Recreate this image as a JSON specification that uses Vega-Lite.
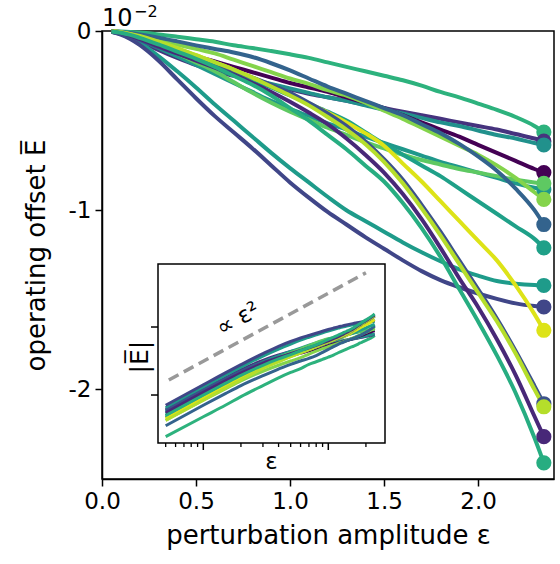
{
"$schema": "https://vega.github.io/schema/vega-lite/v6.json",
"width": 452, "height": 448,
"autosize": {"type": "none"},
"padding": {"left": 102, "top": 31, "right": 6, "bottom": 85},
"config": {"view": {"stroke": "black", "strokeWidth": 1.5}, "font": "DejaVu Sans",
  "axis": {"grid": false, "domainColor": "black", "domainWidth": 1.5, "tickColor": "black", "tickWidth": 1.5, "labelColor": "black", "titleColor": "black", "titleFontWeight": "normal", "labelFont": "DejaVu Sans", "titleFont": "DejaVu Sans", "labelFlush": false}},
"datasets": {
"guide": [{"x": 0.053, "E": -0.0276}, {"x": 2.0, "E": -39.3}],
"notes": [{"x": 0.19, "E": -1.7, "label": "∝ ε²"}],
"xminor": [{"x":0.05},{"x":0.06},{"x":0.07},{"x":0.08},{"x":0.09},{"x":0.2},{"x":0.3},{"x":0.4},{"x":0.5},{"x":0.6},{"x":0.7},{"x":0.8},{"x":0.9},{"x":2}],
"xmajor": [{"x":0.1},{"x":1}],
"ymajor": [{"E":-0.01},{"E":-1}],
"curves": [
{"c":"a","x":0.05,"E":-0.0006},{"c":"a","x":0.1,"E":-0.0023},{"c":"a","x":0.15,"E":-0.005},{"c":"a","x":0.2,"E":-0.009},{"c":"a","x":0.3,"E":-0.019},{"c":"a","x":0.4,"E":-0.032},{"c":"a","x":0.5,"E":-0.046},{"c":"a","x":0.6,"E":-0.06},{"c":"a","x":0.7,"E":-0.08},{"c":"a","x":0.8,"E":-0.095},{"c":"a","x":0.9,"E":-0.112},{"c":"a","x":1,"E":-0.13},{"c":"a","x":1.1,"E":-0.15},{"c":"a","x":1.2,"E":-0.175},{"c":"a","x":1.3,"E":-0.2},{"c":"a","x":1.4,"E":-0.225},{"c":"a","x":1.5,"E":-0.25},{"c":"a","x":1.6,"E":-0.275},{"c":"a","x":1.7,"E":-0.305},{"c":"a","x":1.8,"E":-0.34},{"c":"a","x":1.9,"E":-0.37},{"c":"a","x":2,"E":-0.405},{"c":"a","x":2.1,"E":-0.44},{"c":"a","x":2.2,"E":-0.48},{"c":"a","x":2.3,"E":-0.53},{"c":"a","x":2.35,"E":-0.564},
{"c":"p","x":0.05,"E":-0.0038},{"c":"p","x":0.1,"E":-0.015},{"c":"p","x":0.15,"E":-0.032},{"c":"p","x":0.2,"E":-0.055},{"c":"p","x":0.3,"E":-0.105},{"c":"p","x":0.4,"E":-0.15},{"c":"p","x":0.5,"E":-0.19},{"c":"p","x":0.6,"E":-0.22},{"c":"p","x":0.7,"E":-0.25},{"c":"p","x":0.8,"E":-0.275},{"c":"p","x":0.9,"E":-0.3},{"c":"p","x":1,"E":-0.325},{"c":"p","x":1.1,"E":-0.35},{"c":"p","x":1.2,"E":-0.37},{"c":"p","x":1.3,"E":-0.39},{"c":"p","x":1.4,"E":-0.41},{"c":"p","x":1.5,"E":-0.43},{"c":"p","x":1.6,"E":-0.45},{"c":"p","x":1.7,"E":-0.47},{"c":"p","x":1.8,"E":-0.49},{"c":"p","x":1.9,"E":-0.51},{"c":"p","x":2,"E":-0.53},{"c":"p","x":2.1,"E":-0.55},{"c":"p","x":2.2,"E":-0.575},{"c":"p","x":2.3,"E":-0.6},{"c":"p","x":2.35,"E":-0.615},
{"c":"b","x":0.05,"E":-0.0033},{"c":"b","x":0.1,"E":-0.013},{"c":"b","x":0.15,"E":-0.028},{"c":"b","x":0.2,"E":-0.048},{"c":"b","x":0.3,"E":-0.095},{"c":"b","x":0.4,"E":-0.14},{"c":"b","x":0.5,"E":-0.18},{"c":"b","x":0.6,"E":-0.215},{"c":"b","x":0.7,"E":-0.245},{"c":"b","x":0.8,"E":-0.27},{"c":"b","x":0.9,"E":-0.295},{"c":"b","x":1,"E":-0.32},{"c":"b","x":1.1,"E":-0.345},{"c":"b","x":1.2,"E":-0.37},{"c":"b","x":1.3,"E":-0.39},{"c":"b","x":1.4,"E":-0.415},{"c":"b","x":1.5,"E":-0.44},{"c":"b","x":1.6,"E":-0.46},{"c":"b","x":1.7,"E":-0.485},{"c":"b","x":1.8,"E":-0.51},{"c":"b","x":1.9,"E":-0.53},{"c":"b","x":2,"E":-0.555},{"c":"b","x":2.1,"E":-0.58},{"c":"b","x":2.2,"E":-0.6},{"c":"b","x":2.3,"E":-0.625},{"c":"b","x":2.35,"E":-0.636},
{"c":"c","x":0.05,"E":-0.0022},{"c":"c","x":0.1,"E":-0.009},{"c":"c","x":0.15,"E":-0.02},{"c":"c","x":0.2,"E":-0.034},{"c":"c","x":0.3,"E":-0.07},{"c":"c","x":0.4,"E":-0.105},{"c":"c","x":0.5,"E":-0.14},{"c":"c","x":0.6,"E":-0.17},{"c":"c","x":0.7,"E":-0.2},{"c":"c","x":0.8,"E":-0.23},{"c":"c","x":0.9,"E":-0.26},{"c":"c","x":1,"E":-0.29},{"c":"c","x":1.1,"E":-0.315},{"c":"c","x":1.2,"E":-0.34},{"c":"c","x":1.3,"E":-0.37},{"c":"c","x":1.4,"E":-0.4},{"c":"c","x":1.5,"E":-0.43},{"c":"c","x":1.6,"E":-0.47},{"c":"c","x":1.7,"E":-0.51},{"c":"c","x":1.8,"E":-0.55},{"c":"c","x":1.9,"E":-0.59},{"c":"c","x":2,"E":-0.635},{"c":"c","x":2.1,"E":-0.68},{"c":"c","x":2.2,"E":-0.725},{"c":"c","x":2.3,"E":-0.77},{"c":"c","x":2.35,"E":-0.79},
{"c":"q","x":0.05,"E":-0.0028},{"c":"q","x":0.1,"E":-0.011},{"c":"q","x":0.15,"E":-0.025},{"c":"q","x":0.2,"E":-0.044},{"c":"q","x":0.3,"E":-0.09},{"c":"q","x":0.4,"E":-0.14},{"c":"q","x":0.5,"E":-0.19},{"c":"q","x":0.6,"E":-0.24},{"c":"q","x":0.7,"E":-0.29},{"c":"q","x":0.8,"E":-0.34},{"c":"q","x":0.9,"E":-0.39},{"c":"q","x":1,"E":-0.435},{"c":"q","x":1.1,"E":-0.475},{"c":"q","x":1.2,"E":-0.515},{"c":"q","x":1.3,"E":-0.55},{"c":"q","x":1.4,"E":-0.59},{"c":"q","x":1.5,"E":-0.625},{"c":"q","x":1.6,"E":-0.66},{"c":"q","x":1.7,"E":-0.695},{"c":"q","x":1.8,"E":-0.73},{"c":"q","x":1.9,"E":-0.76},{"c":"q","x":2,"E":-0.79},{"c":"q","x":2.1,"E":-0.82},{"c":"q","x":2.2,"E":-0.85},{"c":"q","x":2.3,"E":-0.875},{"c":"q","x":2.35,"E":-0.885},
{"c":"d","x":0.05,"E":-0.0022},{"c":"d","x":0.1,"E":-0.009},{"c":"d","x":0.15,"E":-0.02},{"c":"d","x":0.2,"E":-0.036},{"c":"d","x":0.3,"E":-0.078},{"c":"d","x":0.4,"E":-0.125},{"c":"d","x":0.5,"E":-0.175},{"c":"d","x":0.6,"E":-0.225},{"c":"d","x":0.7,"E":-0.285},{"c":"d","x":0.8,"E":-0.345},{"c":"d","x":0.9,"E":-0.4},{"c":"d","x":1,"E":-0.45},{"c":"d","x":1.1,"E":-0.495},{"c":"d","x":1.2,"E":-0.54},{"c":"d","x":1.3,"E":-0.58},{"c":"d","x":1.4,"E":-0.62},{"c":"d","x":1.5,"E":-0.655},{"c":"d","x":1.6,"E":-0.69},{"c":"d","x":1.7,"E":-0.72},{"c":"d","x":1.8,"E":-0.745},{"c":"d","x":1.9,"E":-0.77},{"c":"d","x":2,"E":-0.79},{"c":"d","x":2.1,"E":-0.81},{"c":"d","x":2.2,"E":-0.83},{"c":"d","x":2.3,"E":-0.845},{"c":"d","x":2.35,"E":-0.85},
{"c":"e","x":0.05,"E":-0.0018},{"c":"e","x":0.1,"E":-0.007},{"c":"e","x":0.15,"E":-0.015},{"c":"e","x":0.2,"E":-0.026},{"c":"e","x":0.3,"E":-0.05},{"c":"e","x":0.4,"E":-0.075},{"c":"e","x":0.5,"E":-0.1},{"c":"e","x":0.6,"E":-0.125},{"c":"e","x":0.7,"E":-0.16},{"c":"e","x":0.8,"E":-0.195},{"c":"e","x":0.9,"E":-0.23},{"c":"e","x":1,"E":-0.265},{"c":"e","x":1.1,"E":-0.295},{"c":"e","x":1.2,"E":-0.33},{"c":"e","x":1.3,"E":-0.36},{"c":"e","x":1.4,"E":-0.4},{"c":"e","x":1.5,"E":-0.445},{"c":"e","x":1.6,"E":-0.49},{"c":"e","x":1.7,"E":-0.54},{"c":"e","x":1.8,"E":-0.59},{"c":"e","x":1.9,"E":-0.64},{"c":"e","x":2,"E":-0.69},{"c":"e","x":2.1,"E":-0.75},{"c":"e","x":2.2,"E":-0.82},{"c":"e","x":2.3,"E":-0.9},{"c":"e","x":2.35,"E":-0.94},
{"c":"f","x":0.05,"E":-0.00125},{"c":"f","x":0.1,"E":-0.005},{"c":"f","x":0.15,"E":-0.011},{"c":"f","x":0.2,"E":-0.019},{"c":"f","x":0.3,"E":-0.037},{"c":"f","x":0.4,"E":-0.058},{"c":"f","x":0.5,"E":-0.08},{"c":"f","x":0.6,"E":-0.1},{"c":"f","x":0.7,"E":-0.12},{"c":"f","x":0.8,"E":-0.145},{"c":"f","x":0.9,"E":-0.18},{"c":"f","x":1,"E":-0.22},{"c":"f","x":1.1,"E":-0.265},{"c":"f","x":1.2,"E":-0.31},{"c":"f","x":1.3,"E":-0.35},{"c":"f","x":1.4,"E":-0.39},{"c":"f","x":1.5,"E":-0.43},{"c":"f","x":1.6,"E":-0.47},{"c":"f","x":1.7,"E":-0.52},{"c":"f","x":1.8,"E":-0.57},{"c":"f","x":1.9,"E":-0.63},{"c":"f","x":2,"E":-0.7},{"c":"f","x":2.1,"E":-0.78},{"c":"f","x":2.2,"E":-0.88},{"c":"f","x":2.3,"E":-1.0},{"c":"f","x":2.35,"E":-1.08},
{"c":"g","x":0.05,"E":-0.0025},{"c":"g","x":0.1,"E":-0.01},{"c":"g","x":0.15,"E":-0.022},{"c":"g","x":0.2,"E":-0.038},{"c":"g","x":0.3,"E":-0.075},{"c":"g","x":0.4,"E":-0.115},{"c":"g","x":0.5,"E":-0.155},{"c":"g","x":0.6,"E":-0.195},{"c":"g","x":0.7,"E":-0.235},{"c":"g","x":0.8,"E":-0.275},{"c":"g","x":0.9,"E":-0.315},{"c":"g","x":1,"E":-0.36},{"c":"g","x":1.1,"E":-0.405},{"c":"g","x":1.2,"E":-0.45},{"c":"g","x":1.3,"E":-0.5},{"c":"g","x":1.4,"E":-0.565},{"c":"g","x":1.5,"E":-0.63},{"c":"g","x":1.6,"E":-0.69},{"c":"g","x":1.7,"E":-0.75},{"c":"g","x":1.8,"E":-0.81},{"c":"g","x":1.9,"E":-0.88},{"c":"g","x":2,"E":-0.95},{"c":"g","x":2.1,"E":-1.02},{"c":"g","x":2.2,"E":-1.09},{"c":"g","x":2.3,"E":-1.16},{"c":"g","x":2.35,"E":-1.21},
{"c":"h","x":0.05,"E":-0.0042},{"c":"h","x":0.1,"E":-0.017},{"c":"h","x":0.15,"E":-0.038},{"c":"h","x":0.2,"E":-0.066},{"c":"h","x":0.3,"E":-0.14},{"c":"h","x":0.4,"E":-0.225},{"c":"h","x":0.5,"E":-0.315},{"c":"h","x":0.6,"E":-0.41},{"c":"h","x":0.7,"E":-0.5},{"c":"h","x":0.8,"E":-0.59},{"c":"h","x":0.9,"E":-0.68},{"c":"h","x":1,"E":-0.765},{"c":"h","x":1.1,"E":-0.845},{"c":"h","x":1.2,"E":-0.925},{"c":"h","x":1.3,"E":-1.0},{"c":"h","x":1.4,"E":-1.06},{"c":"h","x":1.5,"E":-1.12},{"c":"h","x":1.6,"E":-1.18},{"c":"h","x":1.7,"E":-1.235},{"c":"h","x":1.8,"E":-1.285},{"c":"h","x":1.9,"E":-1.33},{"c":"h","x":2,"E":-1.365},{"c":"h","x":2.1,"E":-1.395},{"c":"h","x":2.2,"E":-1.41},{"c":"h","x":2.3,"E":-1.418},{"c":"h","x":2.35,"E":-1.42},
{"c":"i","x":0.05,"E":-0.005},{"c":"i","x":0.1,"E":-0.02},{"c":"i","x":0.15,"E":-0.045},{"c":"i","x":0.2,"E":-0.078},{"c":"i","x":0.3,"E":-0.165},{"c":"i","x":0.4,"E":-0.27},{"c":"i","x":0.5,"E":-0.375},{"c":"i","x":0.6,"E":-0.475},{"c":"i","x":0.7,"E":-0.565},{"c":"i","x":0.8,"E":-0.655},{"c":"i","x":0.9,"E":-0.75},{"c":"i","x":1,"E":-0.845},{"c":"i","x":1.1,"E":-0.93},{"c":"i","x":1.2,"E":-1.01},{"c":"i","x":1.3,"E":-1.08},{"c":"i","x":1.4,"E":-1.15},{"c":"i","x":1.5,"E":-1.215},{"c":"i","x":1.6,"E":-1.28},{"c":"i","x":1.7,"E":-1.34},{"c":"i","x":1.8,"E":-1.39},{"c":"i","x":1.9,"E":-1.43},{"c":"i","x":2,"E":-1.465},{"c":"i","x":2.1,"E":-1.495},{"c":"i","x":2.2,"E":-1.52},{"c":"i","x":2.3,"E":-1.535},{"c":"i","x":2.35,"E":-1.54},
{"c":"j","x":0.05,"E":-0.002},{"c":"j","x":0.1,"E":-0.008},{"c":"j","x":0.15,"E":-0.018},{"c":"j","x":0.2,"E":-0.032},{"c":"j","x":0.3,"E":-0.065},{"c":"j","x":0.4,"E":-0.1},{"c":"j","x":0.5,"E":-0.135},{"c":"j","x":0.6,"E":-0.175},{"c":"j","x":0.7,"E":-0.215},{"c":"j","x":0.8,"E":-0.26},{"c":"j","x":0.9,"E":-0.305},{"c":"j","x":1,"E":-0.355},{"c":"j","x":1.1,"E":-0.405},{"c":"j","x":1.2,"E":-0.455},{"c":"j","x":1.3,"E":-0.51},{"c":"j","x":1.4,"E":-0.57},{"c":"j","x":1.5,"E":-0.64},{"c":"j","x":1.6,"E":-0.74},{"c":"j","x":1.7,"E":-0.84},{"c":"j","x":1.8,"E":-0.95},{"c":"j","x":1.9,"E":-1.06},{"c":"j","x":2,"E":-1.17},{"c":"j","x":2.1,"E":-1.28},{"c":"j","x":2.2,"E":-1.42},{"c":"j","x":2.3,"E":-1.58},{"c":"j","x":2.35,"E":-1.67},
{"c":"k","x":0.05,"E":-0.0035},{"c":"k","x":0.1,"E":-0.014},{"c":"k","x":0.15,"E":-0.03},{"c":"k","x":0.2,"E":-0.05},{"c":"k","x":0.3,"E":-0.09},{"c":"k","x":0.4,"E":-0.125},{"c":"k","x":0.5,"E":-0.16},{"c":"k","x":0.6,"E":-0.19},{"c":"k","x":0.7,"E":-0.225},{"c":"k","x":0.8,"E":-0.26},{"c":"k","x":0.9,"E":-0.3},{"c":"k","x":1,"E":-0.345},{"c":"k","x":1.1,"E":-0.4},{"c":"k","x":1.2,"E":-0.46},{"c":"k","x":1.3,"E":-0.53},{"c":"k","x":1.4,"E":-0.615},{"c":"k","x":1.5,"E":-0.715},{"c":"k","x":1.6,"E":-0.83},{"c":"k","x":1.7,"E":-0.97},{"c":"k","x":1.8,"E":-1.12},{"c":"k","x":1.9,"E":-1.28},{"c":"k","x":2,"E":-1.44},{"c":"k","x":2.1,"E":-1.605},{"c":"k","x":2.2,"E":-1.785},{"c":"k","x":2.3,"E":-1.98},{"c":"k","x":2.35,"E":-2.08},
{"c":"l","x":0.05,"E":-0.0018},{"c":"l","x":0.1,"E":-0.007},{"c":"l","x":0.15,"E":-0.016},{"c":"l","x":0.2,"E":-0.028},{"c":"l","x":0.3,"E":-0.06},{"c":"l","x":0.4,"E":-0.095},{"c":"l","x":0.5,"E":-0.135},{"c":"l","x":0.6,"E":-0.175},{"c":"l","x":0.7,"E":-0.215},{"c":"l","x":0.8,"E":-0.26},{"c":"l","x":0.9,"E":-0.31},{"c":"l","x":1,"E":-0.36},{"c":"l","x":1.1,"E":-0.415},{"c":"l","x":1.2,"E":-0.48},{"c":"l","x":1.3,"E":-0.55},{"c":"l","x":1.4,"E":-0.63},{"c":"l","x":1.5,"E":-0.73},{"c":"l","x":1.6,"E":-0.85},{"c":"l","x":1.7,"E":-0.99},{"c":"l","x":1.8,"E":-1.14},{"c":"l","x":1.9,"E":-1.3},{"c":"l","x":2,"E":-1.46},{"c":"l","x":2.1,"E":-1.62},{"c":"l","x":2.2,"E":-1.8},{"c":"l","x":2.3,"E":-2.0},{"c":"l","x":2.35,"E":-2.097},
{"c":"m","x":0.05,"E":-0.003},{"c":"m","x":0.1,"E":-0.012},{"c":"m","x":0.15,"E":-0.026},{"c":"m","x":0.2,"E":-0.044},{"c":"m","x":0.3,"E":-0.085},{"c":"m","x":0.4,"E":-0.125},{"c":"m","x":0.5,"E":-0.165},{"c":"m","x":0.6,"E":-0.205},{"c":"m","x":0.7,"E":-0.245},{"c":"m","x":0.8,"E":-0.29},{"c":"m","x":0.9,"E":-0.34},{"c":"m","x":1,"E":-0.395},{"c":"m","x":1.1,"E":-0.455},{"c":"m","x":1.2,"E":-0.52},{"c":"m","x":1.3,"E":-0.6},{"c":"m","x":1.4,"E":-0.69},{"c":"m","x":1.5,"E":-0.79},{"c":"m","x":1.6,"E":-0.91},{"c":"m","x":1.7,"E":-1.05},{"c":"m","x":1.8,"E":-1.21},{"c":"m","x":1.9,"E":-1.38},{"c":"m","x":2,"E":-1.54},{"c":"m","x":2.1,"E":-1.72},{"c":"m","x":2.2,"E":-1.92},{"c":"m","x":2.3,"E":-2.15},{"c":"m","x":2.35,"E":-2.264},
{"c":"n","x":0.05,"E":-0.0025},{"c":"n","x":0.1,"E":-0.01},{"c":"n","x":0.15,"E":-0.022},{"c":"n","x":0.2,"E":-0.038},{"c":"n","x":0.3,"E":-0.075},{"c":"n","x":0.4,"E":-0.115},{"c":"n","x":0.5,"E":-0.155},{"c":"n","x":0.6,"E":-0.2},{"c":"n","x":0.7,"E":-0.25},{"c":"n","x":0.8,"E":-0.3},{"c":"n","x":0.9,"E":-0.36},{"c":"n","x":1,"E":-0.43},{"c":"n","x":1.1,"E":-0.5},{"c":"n","x":1.2,"E":-0.58},{"c":"n","x":1.3,"E":-0.66},{"c":"n","x":1.4,"E":-0.75},{"c":"n","x":1.5,"E":-0.84},{"c":"n","x":1.6,"E":-0.96},{"c":"n","x":1.7,"E":-1.1},{"c":"n","x":1.8,"E":-1.26},{"c":"n","x":1.9,"E":-1.44},{"c":"n","x":2,"E":-1.62},{"c":"n","x":2.1,"E":-1.81},{"c":"n","x":2.2,"E":-2.02},{"c":"n","x":2.3,"E":-2.27},{"c":"n","x":2.35,"E":-2.41}
]},
"layer": [
 {"data": {"name": "curves"},
  "layer": [
   {"mark": {"type": "line", "strokeWidth": 4, "interpolate": "monotone"},
    "encoding": {
     "x": {"field": "x", "type": "quantitative", "scale": {"domain": [0, 2.404], "nice": false, "zero": false},
       "axis": {"values": [0, 0.5, 1, 1.5, 2], "format": ".1f", "title": "perturbation amplitude ε", "tickSize": 7, "labelFontSize": 23, "titleFontSize": 26, "labelPadding": 4, "titlePadding": 9}},
     "y": {"field": "E", "type": "quantitative", "scale": {"domain": [-2.5, 0], "nice": false, "zero": false},
       "axis": {"values": [0, -1, -2], "labelExpr": "datum.value == 0 ? '0' : '-' + abs(datum.value)", "title": "operating offset E̅", "tickSize": 7, "labelFontSize": 23, "titleFontSize": 26, "labelPadding": 4, "titlePadding": 19}},
     "color": {"field": "c", "type": "nominal", "legend": null,
       "scale": {"domain": ["a","p","b","c","q","d","e","f","g","h","i","j","k","l","m","n"],
                 "range": ["#2db27d","#46337e","#21918c","#440154","#1f988b","#5ec962","#84d44b","#33638d","#1fa088","#1e9b8a","#404688","#dde318","#3b528b","#b5de2b","#482878","#27ad81"]}}
    }},
   {"transform": [{"filter": "datum.x == 2.35"}],
    "mark": {"type": "circle", "size": 230, "opacity": 1},
    "encoding": {
     "x": {"field": "x", "type": "quantitative"},
     "y": {"field": "E", "type": "quantitative"},
     "color": {"field": "c", "type": "nominal", "legend": null}
    }},
   {"data": {"values": [{}]},
    "mark": {"type": "text", "text": "10", "fontSize": 24, "align": "left", "baseline": "alphabetic", "color": "black", "yOffset": -5},
    "encoding": {
     "x": {"datum": 0, "type": "quantitative"},
     "y": {"datum": 0, "type": "quantitative"}
    }},
   {"data": {"values": [{}]},
    "mark": {"type": "text", "text": "−2", "fontSize": 16, "align": "left", "baseline": "alphabetic", "color": "black", "xOffset": 32, "yOffset": -14},
    "encoding": {
     "x": {"datum": 0, "type": "quantitative"},
     "y": {"datum": 0, "type": "quantitative"}
    }}
  ]},
 {"layer": [
   {"data": {"values": [{}]},
    "mark": {"type": "rect", "fill": "white", "stroke": "black", "strokeWidth": 1.5},
    "encoding": {
     "x": {"datum": 0.0434, "type": "quantitative", "scale": {"type": "log", "domain": [0.0434, 2.842], "range": [56, 283], "nice": false}, "axis": null},
     "x2": {"datum": 2.842},
     "y": {"datum": -0.000388, "type": "quantitative", "scale": {"type": "log", "domain": [-0.000388, -71.3], "range": [412, 233], "nice": false}, "axis": null},
     "y2": {"datum": -71.3}
    }},
   {"data": {"name": "xminor"},
    "mark": {"type": "tick", "orient": "vertical", "size": 4, "thickness": 1.3, "color": "black", "yOffset": 2, "opacity": 1},
    "encoding": {
     "x": {"field": "x", "type": "quantitative", "axis": null},
     "y": {"datum": -0.000388, "type": "quantitative", "axis": null}
    }},
   {"data": {"name": "xmajor"},
    "mark": {"type": "tick", "orient": "vertical", "size": 7, "thickness": 1.5, "color": "black", "yOffset": 3.5, "opacity": 1},
    "encoding": {
     "x": {"field": "x", "type": "quantitative", "axis": null},
     "y": {"datum": -0.000388, "type": "quantitative", "axis": null}
    }},
   {"data": {"name": "ymajor"},
    "mark": {"type": "tick", "orient": "horizontal", "size": 7, "thickness": 1.5, "color": "black", "xOffset": -3.5, "opacity": 1},
    "encoding": {
     "x": {"datum": 0.0434, "type": "quantitative", "axis": null},
     "y": {"field": "E", "type": "quantitative", "axis": null}
    }},
   {"data": {"values": [{}]},
    "mark": {"type": "text", "text": "ε", "fontSize": 23, "align": "center", "baseline": "middle", "color": "black", "yOffset": 19},
    "encoding": {
     "x": {"datum": 0.351, "type": "quantitative", "axis": null},
     "y": {"datum": -0.000388, "type": "quantitative", "axis": null}
    }},
   {"data": {"values": [{}]},
    "mark": {"type": "text", "text": "|E̅|", "fontSize": 25, "angle": 270, "align": "center", "baseline": "middle", "color": "black", "xOffset": -18},
    "encoding": {
     "x": {"datum": 0.0434, "type": "quantitative", "axis": null},
     "y": {"datum": -0.13, "type": "quantitative", "axis": null}
    }},
   {"data": {"name": "guide"},
    "mark": {"type": "line", "color": "#999999", "strokeWidth": 3.5, "strokeDash": [11, 6]},
    "encoding": {
     "x": {"field": "x", "type": "quantitative", "axis": null},
     "y": {"field": "E", "type": "quantitative", "axis": null}
    }},
   {"data": {"name": "notes"},
    "mark": {"type": "text", "angle": 331, "fontSize": 23, "align": "center", "baseline": "middle", "color": "black"},
    "encoding": {
     "x": {"field": "x", "type": "quantitative", "axis": null},
     "y": {"field": "E", "type": "quantitative", "axis": null},
     "text": {"field": "label"}
    }},
   {"data": {"name": "curves"},
    "mark": {"type": "line", "strokeWidth": 3, "interpolate": "monotone"},
    "encoding": {
     "x": {"field": "x", "type": "quantitative", "axis": null},
     "y": {"field": "E", "type": "quantitative", "axis": null},
     "color": {"field": "c", "type": "nominal", "legend": null}
    }}
 ]}
],
"resolve": {"scale": {"x": "independent", "y": "independent"}, "axis": {"x": "independent", "y": "independent"}}
}
